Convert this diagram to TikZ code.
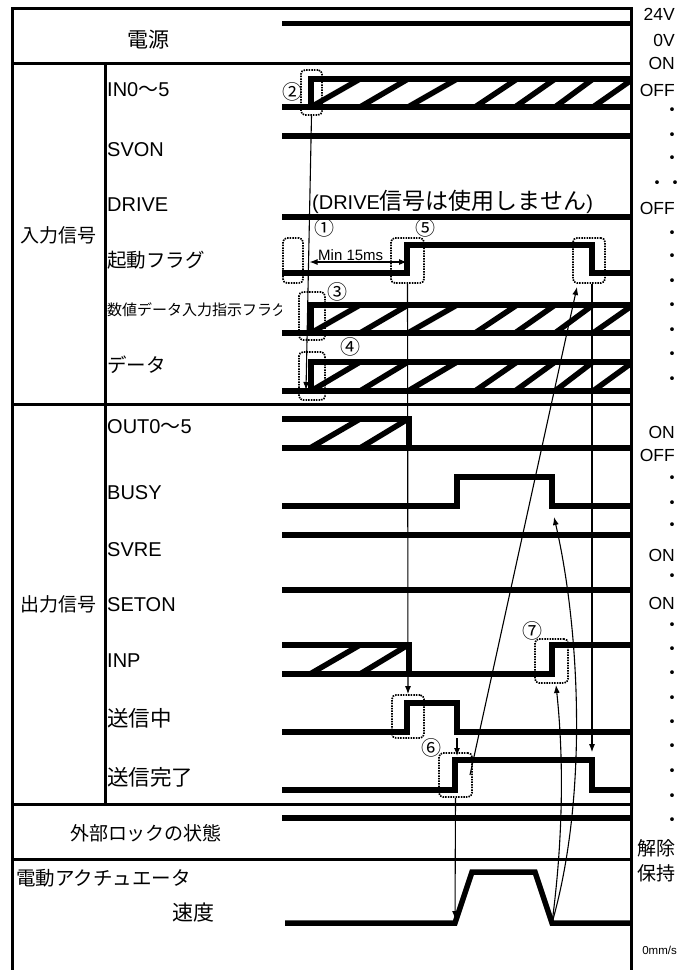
\documentclass[tikz,border=0pt]{standalone}
\usepackage{fontspec}
\setmainfont{Liberation Sans}
\newfontfamily\jpf{Noto Sans CJK JP}
\usetikzlibrary{arrows.meta}
\newcommand\fs[1]{\fontsize{#1}{#1}\selectfont}

\begin{document}
\begin{tikzpicture}[
    x=1pt,y=-1pt,
    >={Latex[length=8pt,width=6pt]},
    frame/.style={line width=3pt},
    trace/.style={line width=5.5pt,line join=miter},
    sig/.style={line width=1.1pt},
    dotbox/.style={draw,line width=1.7pt,dash pattern=on 1.5pt off 1.1pt,rounded corners=4pt,inner sep=0pt},
    lbl/.style={anchor=west,inner sep=0pt,font=\fs{20}},
    jlbl/.style={anchor=west,inner sep=0pt,font=\jpf\fs{20}},
    lvl/.style={anchor=east,inner sep=0pt,font=\fs{17.5}},
    pip/.style={inner sep=0pt,font=\jpf\fs{18}},
    num/.style={inner sep=0pt,font=\jpf\fs{20}}]
  \useasboundingbox (0,0) rectangle (688,970);
  % ---- signal traces ----
  \draw[trace] (282,23.5) -- (631,23.5);                % power 24V
  \foreach \hi/\lo in {79/107,305/333,362/391}{         % IN0~5, flag, data
    \begin{scope}
      \clip (311,\hi) rectangle (631,\lo);
      \foreach \a/\b in {311/360,360/408,408/457,475/517,515/555,555/593,593/633}
        \draw[trace] (\a,\lo) -- (\b,\hi);
    \end{scope}
    \draw[trace] (282,\lo) -- (631,\lo);
    \draw[trace] (311,\lo) -- (311,\hi) -- (631,\hi);
  }
  \draw[trace] (282,136) -- (631,136);                  % SVON
  \draw[trace] (282,217) -- (631,217);                  % DRIVE
  \draw[trace] (282,273) -- (407,273) -- (407,245) -- (592,245) -- (592,273) -- (631,273);
  \foreach \hi/\lo in {419/448,645/674}{                % OUT0~5, INP old value
    \begin{scope}
      \clip (282,\hi) rectangle (409,\lo);
      \foreach \a/\b in {310/360,360/408}
        \draw[trace] (\a,\lo) -- (\b,\hi);
    \end{scope}
    \draw[trace] (282,\hi) -- (409,\hi) -- (409,\lo);
  }
  \draw[trace] (282,448) -- (631,448);                  % OUT0~5 low
  \draw[trace] (282,506) -- (457,506) -- (457,477) -- (552,477) -- (552,506) -- (631,506);
  \draw[trace] (282,535) -- (631,535);                  % SVRE
  \draw[trace] (282,590) -- (631,590);                  % SETON
  \draw[trace] (282,674) -- (552,674) -- (552,645) -- (631,645);
  \draw[trace] (282,732) -- (407,732) -- (407,703) -- (457,703) -- (457,732) -- (631,732);
  \draw[trace] (282,790) -- (455,790) -- (455,760) -- (592,760) -- (592,790) -- (631,790);
  \draw[trace] (282,818) -- (631,818);                  % lock
  \coordinate (v-up) at (455,923);
  \coordinate (v-dn) at (552,923);
  \draw[trace] (285,923) -- (v-up) -- (472,872) -- (535,872) -- (v-dn) -- (631,923);
  % ---- dotted marks ----
  \node[dotbox,minimum width=21pt,minimum height=45pt] (b2) at (311.5,92.5) {};
  \node[dotbox,minimum width=20pt,minimum height=45pt] (b1) at (293,260.5) {};
  \node[dotbox,minimum width=33pt,minimum height=45pt] (b5) at (407.5,260.5) {};
  \node[dotbox,minimum width=32pt,minimum height=45pt] (bf) at (589,260.5) {};
  \node[dotbox,minimum width=26pt,minimum height=48pt] (b3) at (312,316) {};
  \node[dotbox,minimum width=26pt,minimum height=48pt] (b4) at (312,376) {};
  \node[dotbox,minimum width=33pt,minimum height=44pt] (b7) at (551.5,661) {};
  \node[dotbox,minimum width=32pt,minimum height=43pt] (bs) at (408,716.5) {};
  \node[dotbox,minimum width=33pt,minimum height=44pt] (b6) at (455.5,775) {};
  \node[num] (n1) at (324,228) {①};
  \node[num] (n2) at (292,92) {②};
  \node[num] (n3) at (337,292) {③};
  \node[num] (n4) at (350,347) {④};
  \node[num] (n5) at (425,228) {⑤};
  \node[num] (n6) at (431,748) {⑥};
  \node[num] (n7) at (532,631) {⑦};
  % ---- causal arrows ----
  \coordinate (d-tip) at (306,390);
  \coordinate (m-l) at (309.5,262);
  \coordinate (m-r) at (407,262);
  \coordinate (f-dn) at (592,273);
  \coordinate (s-tl) at (457,738);
  \coordinate (s-hd) at (457,756);
  \coordinate (l-from) at (470,775);
  \coordinate (l-to) at (577,287);
  \coordinate (busy-dn) at (554,517);
  \coordinate (inp-up) at (556,685);
  \draw[sig,->] (b2.south) -- (d-tip);
  \draw[sig,<->] (m-l) -- (m-r);
  \node[anchor=base west,inner sep=0pt,font=\fs{15}] (t-min) at (318,260.5) {Min 15ms};
  \draw[sig,->] (b5.south) -- (bs.north);
  \draw[sig,->] (f-dn |- bf.south) -- (f-dn |- b6.north);
  \draw[sig,->] (s-tl) -- (s-hd);
  \draw[sig,->,shorten >=4pt] (b6.south) -- (v-up);
  \draw[sig,->] (l-from) -- (l-to);
  \draw[sig,->] (v-dn) .. controls (590,790) and (578,620) .. (busy-dn);
  \draw[sig,->] (v-dn) .. controls (563,840) and (564,760) .. (inp-up);
  % ---- left labels ----
  \node[font=\jpf\fs{21},inner sep=0pt] (t-pow) at (148,40) {電源};
  \node[font=\jpf\fs{19},inner sep=0pt] (g-in) at (58,235) {入力信号};
  \node[font=\jpf\fs{19},inner sep=0pt] (g-out) at (58,604) {出力信号};
  \node[lbl] (r-in) at (107,90) {IN0{\jpf ～}5};
  \node[lbl] (r-svon) at (107,150) {SVON};
  \node[lbl] (r-drive) at (107,205) {DRIVE};
  \node[jlbl,font=\jpf\fs{19.5}] (r-start) at (107,260) {起動フラグ};
  \begin{scope}
    \clip (106,290) rectangle (281,330);
    \node[jlbl,font=\jpf\fs{15}] (r-flag) at (107,310) {数値データ入力指示フラグ};
  \end{scope}
  \node[jlbl,font=\jpf\fs{19.5}] (r-data) at (107,365) {データ};
  \node[lbl] (r-out) at (107,427) {OUT0{\jpf ～}5};
  \node[lbl] (r-busy) at (107,493) {BUSY};
  \node[lbl] (r-svre) at (107,550) {SVRE};
  \node[lbl] (r-seton) at (107,605) {SETON};
  \node[lbl] (r-inp) at (107,661) {INP};
  \node[jlbl,font=\jpf\fs{21.5}] (r-send) at (107,718) {送信中};
  \node[jlbl,font=\jpf\fs{21.5}] (r-done) at (107,777) {送信完了};
  \node[font=\jpf\fs{19},inner sep=0pt] (t-lock) at (146,833) {外部ロックの状態};
  \node[jlbl,font=\jpf\fs{19.5}] (t-act) at (16,878) {電動アクチュエータ};
  \node[font=\jpf\fs{21},inner sep=0pt] (t-vel) at (193,913) {速度};
  \node[anchor=west,inner sep=0pt,font=\fs{20}] (t-nodrive) at (312,202) {(DRIVE{\jpf\fs{23}信号は使用しません})};
  % ---- right level labels ----
  \node[lvl] (v-24) at (675,14) {24V};
  \node[lvl] (v-0) at (675,40) {0V};
  \node[lvl] (v-on1) at (675,63) {ON};
  \node[lvl] (v-off1) at (675,90) {OFF};
  \node[pip] (v-dd) at (666,185) {・・};
  \node[lvl] (v-off2) at (675,208) {OFF};
  \node[lvl] (v-on2) at (675,432) {ON};
  \node[lvl] (v-off3) at (675,455) {OFF};
  \node[lvl] (v-on3) at (675,555) {ON};
  \node[lvl] (v-on4) at (675,603) {ON};
  \foreach \y in {112,137,160,235,258,283,307,332,356,381,480,505,527,578,627,651,675,700,724,748,773,798,822}
    \node[pip] (p\y) at (672,\y) {・};
  \node[lvl,font=\jpf\fs{19}] (v-free) at (676,848) {解除};
  \node[lvl,font=\jpf\fs{19}] (v-hold) at (676,873) {保持};
  \node[lvl,font=\fs{11.5}] (v-zero) at (677,950) {0mm/s};
  % ---- table frame ----
  \draw[frame] (631,970) -- (631,8) -- (12,8) -- (12,970);
  \draw[frame] (12,63) -- (632,63);
  \draw[frame] (12,404) -- (631,404);
  \draw[frame] (12,804) -- (631,804);
  \draw[frame] (12,859) -- (631,859);
  \draw[frame] (105,63) -- (105,804);
\end{tikzpicture}
\end{document}
